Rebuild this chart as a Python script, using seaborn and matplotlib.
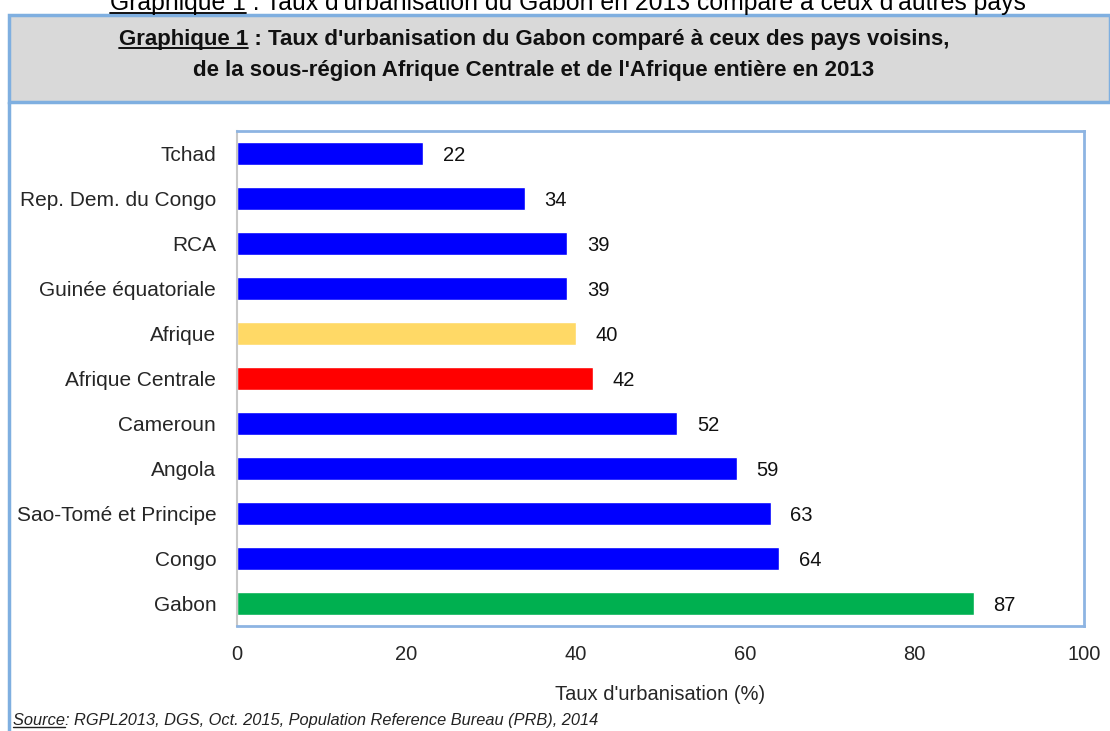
import matplotlib
matplotlib.use("Agg")
import matplotlib.pyplot as plt
import seaborn as sns
import pandas as pd
from matplotlib.patches import Rectangle
from matplotlib.lines import Line2D

categories = ["Tchad", "Rep. Dem. du Congo", "RCA", "Guinée équatoriale", "Afrique",
              "Afrique Centrale", "Cameroun", "Angola", "Sao-Tomé et Principe", "Congo", "Gabon"]
values = [22, 34, 39, 39, 40, 42, 52, 59, 63, 64, 87]
bar_colors = ["#0000FF", "#0000FF", "#0000FF", "#0000FF", "#FFD966",
              "#FF0000", "#0000FF", "#0000FF", "#0000FF", "#0000FF", "#00B050"]
xticks = [0, 20, 40, 60, 80, 100]

sns.set_theme(style="white")
plt.rcParams['font.family'] = ['Liberation Sans', 'DejaVu Sans']

W, H = 1110, 731
fig = plt.figure(figsize=(W / 100, H / 100), dpi=100)
fig.patch.set_facecolor("white")

def fx(px):
    return px / W

def fy(py):
    return 1 - py / H

border_blue = "#7FAFE0"
# gray header box
fig.patches.append(Rectangle((fx(9), fy(102)), fx(1110 - 9), (102 - 15) / H,
                             transform=fig.transFigure, facecolor="#D9D9D9",
                             edgecolor=border_blue, linewidth=2.5, zorder=0))
# left outer border
fig.lines.append(Line2D([fx(9), fx(9)], [fy(102), 0], transform=fig.transFigure,
                        color=border_blue, linewidth=2.5))

ax = fig.add_axes([fx(237), fy(626), fx(1084 - 237), (626 - 131) / H])
df = pd.DataFrame({"cat": categories, "val": values})
palette = dict(zip(categories, bar_colors))
sns.barplot(data=df, x="val", y="cat", hue="cat", palette=palette, legend=False,
            width=0.5, orient="h", ax=ax, saturation=1)
ax.set_xlim(0, 100)
ax.set_ylim(10.5, -0.5)
ax.set_xticks(xticks)
ax.set_xticklabels([str(t) for t in xticks], fontsize=14.5)
ax.tick_params(axis="y", labelsize=15, length=0, pad=15)
ax.tick_params(axis="x", length=0, pad=14)
ax.set_ylabel("")
ax.set_xlabel("Taux d'urbanisation (%)", fontsize=14.5, labelpad=15)
for s in ["top", "right", "bottom"]:
    ax.spines[s].set_color("#8DB4E2")
    ax.spines[s].set_linewidth(2)
ax.spines["left"].set_color("#C8C8C8")
ax.spines["left"].set_linewidth(1.5)

for i, v in enumerate(values):
    ax.annotate(str(v), xy=(v, i), xytext=(14, 0), textcoords="offset points",
                va="center_baseline", ha="left", fontsize=14.5, color="#111111")

renderer = fig.canvas.get_renderer()

def underline_prefix(full_text, prefix, x, y, **kw):
    t = fig.text(x, y, full_text, ha="center", va="baseline", **kw)
    bb = t.get_window_extent(renderer)
    p = fig.text(0, 0, prefix, ha="left", va="baseline", **kw)
    pb = p.get_window_extent(renderer)
    p.remove()
    yline = y - 3 / H
    fig.lines.append(Line2D([bb.x0 / W, (bb.x0 + pb.width) / W], [yline, yline],
                            transform=fig.transFigure, color="black", linewidth=1.3))
    return t

# caption at very top (partly cut off in the source image)
underline_prefix("Graphique 1 : Taux d'urbanisation du Gabon en 2013 comparé à ceux d'autres pays",
                 "Graphique 1", fx(568), fy(10), fontsize=17.8, color="black")

title_kw = dict(fontsize=16, fontweight="bold", color="#111111")
underline_prefix("Graphique 1 : Taux d'urbanisation du Gabon comparé à ceux des pays voisins,",
                 "Graphique 1", fx(534), fy(45), **title_kw)
fig.text(fx(534), fy(76), "de la sous-région Afrique Centrale et de l'Afrique entière en 2013",
         ha="center", va="baseline", **title_kw)

# source
src_kw = dict(fontsize=11.8, style="italic", color="#222222")
s = fig.text(fx(13), fy(725), "Source: RGPL2013, DGS, Oct. 2015, Population Reference Bureau (PRB), 2014",
             ha="left", va="baseline", **src_kw)
p = fig.text(0, 0, "Source", ha="left", va="baseline", **src_kw)
pw = p.get_window_extent(renderer).width
p.remove()
fig.lines.append(Line2D([fx(13), (13 + pw) / W], [fy(727), fy(727)], transform=fig.transFigure,
                        color="#222222", linewidth=1))

fig.savefig("out.png", dpi=100)
